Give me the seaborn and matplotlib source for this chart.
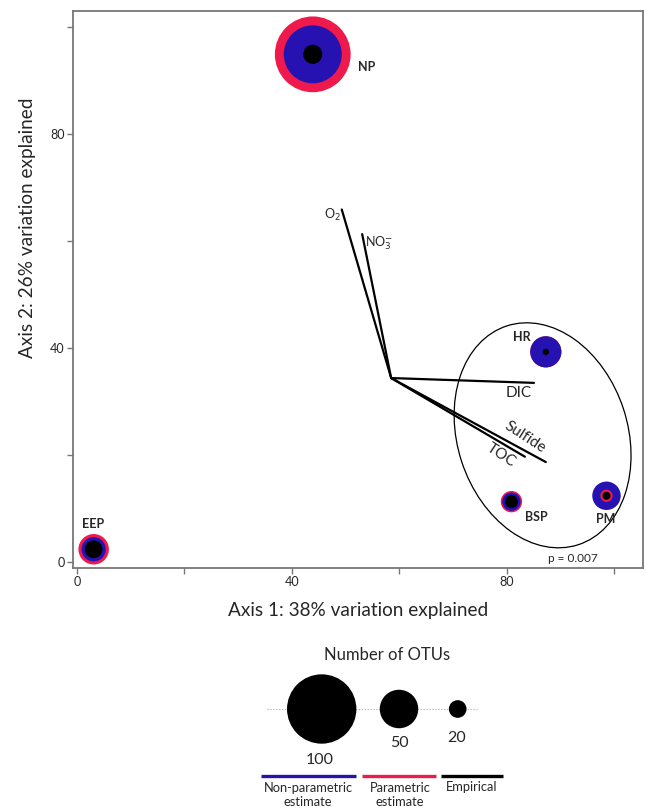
import numpy as np
import pandas as pd
import matplotlib
matplotlib.use("Agg")
import matplotlib.pyplot as plt
from matplotlib.patches import Ellipse
import seaborn as sns

# DATA
SITES      = ["NP", "HR", "BSP", "PM", "EEP"]
SITE_X     = [43.9, 87.3, 80.9, 98.6, 3.1]
SITE_Y     = [94.9, 39.3, 11.3, 12.4, 2.4]
OTU_NONPAR = [81, 39, 21, 35, 29]
OTU_PAR    = [111, 39, 25, 13, 38]
OTU_EMP    = [22, 6, 14, 8, 20]

VEC_NAMES  = ["O$_2$", "NO$_3^{-}$", "DIC", "Sulfide", "TOC"]
VEC_ORIGIN = (58.5, 34.4)
VEC_END_X  = [49.3, 53.1, 85.1, 87.3, 83.4]
VEC_END_Y  = [65.9, 61.3, 33.5, 18.7, 19.7]

LEGEND_OTUS = [100, 50, 20]
X_TICKS = [0, 40, 80]
Y_TICKS = [0, 40, 80]

BLUE  = "#2612B0"
RED   = "#EE1A4C"
BLACK = "#000000"
FONT  = ["Lato", "DejaVu Sans"]


def otu_area(v):
    # marker area (pt^2) from OTU count, radius grows ~ v^0.85
    r_px = 0.692 * np.asarray(v, dtype=float) ** 0.85
    return (2 * r_px * 0.72) ** 2


sns.set_theme(style="white")
plt.rcParams['font.family'] = FONT

fig = plt.figure(figsize=(6.45, 8.11), dpi=100)
ax = fig.add_axes([73/645, 1-568/811, 570/645, 557/811])

# ── SITE BUBBLES ──────────────────────────────────────────────────────────────
rows = []
for est, vals in [("Parametric", OTU_PAR), ("Non-parametric", OTU_NONPAR), ("Empirical", OTU_EMP)]:
    for s, x, y, v in zip(SITES, SITE_X, SITE_Y, vals):
        rows.append({"site": s, "x": x, "y": y, "estimate": est, "otus": v})
# biggest first so every ring stays visible
df = pd.DataFrame(rows).sort_values("otus", ascending=False, kind="stable").reset_index(drop=True)
size_map = {v: float(otu_area(v)) for v in df["otus"].unique()}

sns.scatterplot(data=df, x="x", y="y", hue="estimate", size="otus", sizes=size_map,
                palette={"Non-parametric": BLUE, "Parametric": RED, "Empirical": BLACK},
                linewidth=0, legend=False, ax=ax, zorder=3)

# labels
ax.text(52.3, 92.6, "NP", fontsize=9, fontweight='bold', ha='left', va='center')
ax.text(82.8, 42.0, "HR", fontsize=9, fontweight='bold', ha='center', va='center')
ax.text(85.5, 8.5, "BSP", fontsize=9, fontweight='bold', ha='center', va='center')
ax.text(98.5, 8.0, "PM", fontsize=9, fontweight='bold', ha='center', va='center')
ax.text(2.9, 7.1, "EEP", fontsize=9, fontweight='bold', ha='center', va='center')

# ── ENV VECTORS ───────────────────────────────────────────────────────────────
for ex, ey in zip(VEC_END_X, VEC_END_Y):
    ax.plot([VEC_ORIGIN[0], ex], [VEC_ORIGIN[1], ey], color='black', lw=1.6, zorder=2)
ax.text(49.2, 64.8, VEC_NAMES[0], fontsize=9, ha='right', va='center')
ax.text(53.7, 59.6, VEC_NAMES[1], fontsize=9, ha='left', va='center')
ax.text(82.3, 31.6, VEC_NAMES[2], fontsize=11, ha='center', va='center')
ax.text(83.5, 23.4, VEC_NAMES[3], fontsize=11, ha='center', va='center', rotation=-33)
ax.text(79.0, 20.0, VEC_NAMES[4], fontsize=11, ha='center', va='center', rotation=-33)

# cluster ellipse
ax.add_patch(Ellipse((86.7, 23.7), width=31.7, height=43.0, angle=18,
                     fill=False, edgecolor='black', lw=0.9, zorder=1))
ax.text(92.4, 0.7, "p = 0.007", fontsize=8.5, ha='center', va='center')

# ── AXES ──────────────────────────────────────────────────────────────────────
ax.set_xlim(-0.75, 105.4)
ax.set_ylim(-1.1, 103)
ax.set_xticks(X_TICKS)
ax.set_yticks(Y_TICKS)
ax.set_xticks([20, 60, 100], minor=True)
ax.set_yticks([20, 60, 100], minor=True)
ax.tick_params(which='both', direction='out', length=4, width=1, color='#777777',
               labelsize=9, pad=2, bottom=True, left=True)
ax.tick_params(which='minor', labelbottom=False, labelleft=False)
for sp in ax.spines.values():
    sp.set_color('#777777')
    sp.set_linewidth(1.3)
ax.set_xlabel("Axis 1: 38% variation explained", fontsize=13.7, labelpad=10)
ax.set_ylabel("Axis 2: 26% variation explained", fontsize=13.7)
ax.yaxis.set_label_coords(-0.065, 0.61)

# ── SIZE LEGEND ───────────────────────────────────────────────────────────────
lg = fig.add_axes([0, 0, 1, 191/811])
lg.set_xlim(0, 645)
lg.set_ylim(811, 620)
lg.axis('off')
leg_x = [321.7, 399, 457.7]
lg.plot([267, 477], [709, 709], ls=':', color='#aaaaaa', lw=0.8, zorder=0)
sns.scatterplot(x=leg_x, y=[709] * 3, size=LEGEND_OTUS,
                sizes={v: float(otu_area(v)) for v in LEGEND_OTUS},
                color='black', linewidth=0, legend=False, ax=lg, zorder=2)
lg.text(387, 655, "Number of OTUs", fontsize=12, ha='center', va='center')
for x, y, v in zip([320, 399, 457], [760, 743, 738], LEGEND_OTUS):
    lg.text(x, y, str(v), fontsize=11.5, ha='center', va='center')

lg.plot([261, 356], [776, 776], color=BLUE, lw=2.4, solid_capstyle='butt')
lg.plot([362, 436], [776, 776], color=RED, lw=2.4, solid_capstyle='butt')
lg.plot([441, 503], [776, 776], color=BLACK, lw=2.4, solid_capstyle='butt')
lg.text(308, 795, "Non-parametric\nestimate", fontsize=9.3, ha='center', va='center', linespacing=1.1)
lg.text(400, 795, "Parametric\nestimate", fontsize=9.3, ha='center', va='center', linespacing=1.1)
lg.text(472, 787, "Empirical", fontsize=9.3, ha='center', va='center')

fig.savefig("out.png", dpi=100)
